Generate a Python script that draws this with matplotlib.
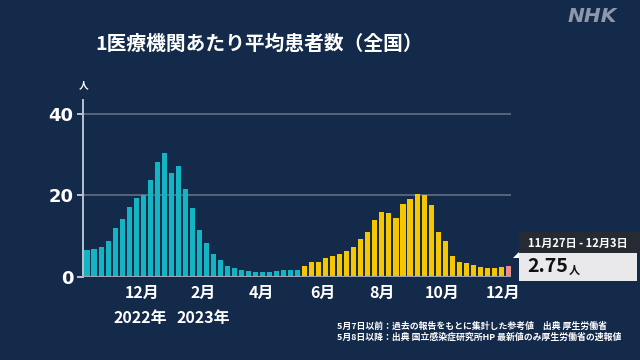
import numpy as np
import matplotlib
matplotlib.use("Agg")
import matplotlib.pyplot as plt
from matplotlib.patches import Rectangle, Polygon

plt.rcParams['font.family'] = ['Noto Sans CJK JP', 'DejaVu Sans']

# 週ごとの値（読み取り）
teal_vals = [6.5, 6.9, 7.3, 8.8, 11.9, 14.2, 17.1, 19.3, 20.0, 23.7, 28.1, 30.3,
             25.6, 27.2, 21.5, 16.8, 11.5, 8.4, 5.7, 4.1, 2.7, 2.2, 1.7, 1.4,
             1.3, 1.3, 1.3, 1.4, 1.8, 1.8, 1.8]
yellow_vals = [2.7, 3.6, 3.7, 4.6, 5.2, 5.7, 6.3, 7.3, 9.2, 11.1, 13.9, 15.9,
               15.8, 14.4, 17.8, 19.1, 20.4, 20.2, 17.6, 11.0, 8.9, 5.2, 3.8,
               3.4, 2.9, 2.5, 2.1, 2.1, 2.4]
latest_vals = [2.75]

month_pos = [7.8, 16.5, 24.9, 33.6, 42.0, 50.6, 59.3]
month_labels = ["12月", "2月", "4月", "6月", "8月", "10月", "12月"]
year_pos = [7.6, 16.6]
year_labels = ["2022年", "2023年"]
yticks = [0, 20, 40]

latest_period = "11月27日 - 12月3日"
latest_text = "2.75"

BG = "#142a4b"
TEAL = "#13b5c3"
YELLOW = "#f6c600"
PINK = "#e88c8c"

W, H = 640, 360


def fx(px):
    return px / W


def fy(py):
    return 1 - py / H


fig = plt.figure(figsize=(6.4, 3.6), dpi=100, facecolor=BG)
ax = fig.add_axes([fx(83), fy(277), fx(511) - fx(83), (277 - 100) / H])
ax.set_facecolor(BG)

n1, n2 = len(teal_vals), len(yellow_vals)
x1 = np.arange(n1)
x2 = np.arange(n1, n1 + n2)
x3 = np.arange(n1 + n2, n1 + n2 + len(latest_vals))
bw = 0.72
ax.bar(x1, teal_vals, width=bw, color=TEAL, zorder=3)
ax.bar(x2, yellow_vals, width=bw, color=YELLOW, zorder=3)
ax.bar(x3, latest_vals, width=bw, color=PINK, zorder=3)

ax.set_xlim(-0.57, 60.38)
ax.set_ylim(0, 43.4)

# グリッド
for v in yticks[1:]:
    ax.axhline(v, color="#5b6a7e", lw=1.3, zorder=1)
ax.axhline(0, color="#9aa4b2", lw=1.6, zorder=4)

for s in ["top", "right", "bottom"]:
    ax.spines[s].set_visible(False)
ax.spines["left"].set_color("#b9c2ce")
ax.spines["left"].set_linewidth(1.4)

ax.set_yticks(yticks)
ax.set_yticklabels([str(v) for v in yticks], fontsize=13, fontweight="bold",
                   color="white", family=["DejaVu Sans"])
ax.tick_params(axis="y", length=4, width=1.4, color="#b9c2ce", pad=3)

ax.set_xticks(month_pos)
ax.set_xticklabels(month_labels, fontsize=11.5, fontweight="bold", color="white")
ax.tick_params(axis="x", length=0, pad=6)

for xp, lab in zip(year_pos, year_labels):
    ax.text(xp, -0.232, lab, transform=ax.get_xaxis_transform(), ha="center",
            va="center", fontsize=11.5, fontweight="bold", color="white")

# 単位
fig.text(fx(84), fy(85), "人", ha="center", va="center", fontsize=7,
         fontweight="bold", color="white")

# タイトル
fig.text(fx(259), fy(44), "1医療機関あたり平均患者数（全国）", ha="center",
         va="center", fontsize=14.2, fontweight="bold", color="white")

# NHKロゴ
fig.text(fx(592), fy(16), "NHK", ha="center", va="center", fontsize=14.5,
         fontweight="heavy", style="italic", color="#8d99ab",
         family=["DejaVu Sans"])

# 最新値ボックス
fig.add_artist(Rectangle((fx(519), fy(253)), fx(640) - fx(519), (253 - 232) / H,
                         transform=fig.transFigure, facecolor="#262b33",
                         edgecolor="none"))
fig.add_artist(Rectangle((fx(519), fy(281)), fx(637) - fx(519), (281 - 253) / H,
                         transform=fig.transFigure, facecolor="#e9e9eb",
                         edgecolor="none"))
fig.add_artist(Polygon([(fx(513), fy(258)), (fx(519), fy(252)), (fx(519), fy(258))],
                       closed=True, transform=fig.transFigure, facecolor="white",
                       edgecolor="none"))
fig.text(fx(578), fy(243), latest_period, ha="center", va="center", fontsize=8,
         fontweight="bold", color="white")
fig.text(fx(527), fy(267), latest_text, ha="left", va="center", fontsize=14,
         fontweight="bold", color="#111111")
fig.text(fx(569), fy(270), "人", ha="left", va="center", fontsize=8,
         fontweight="bold", color="#111111")

# 注記
fig.text(fx(337), fy(326), "5月7日以前：過去の報告をもとに集計した参考値　出典 厚生労働省",
         ha="left", va="center", fontsize=6.4, fontweight="bold", color="white")
fig.text(fx(337), fy(337), "5月8日以降：出典 国立感染症研究所HP 最新値のみ厚生労働省の速報値",
         ha="left", va="center", fontsize=6.4, fontweight="bold", color="white")

fig.savefig("out.png", dpi=100, facecolor=BG)
